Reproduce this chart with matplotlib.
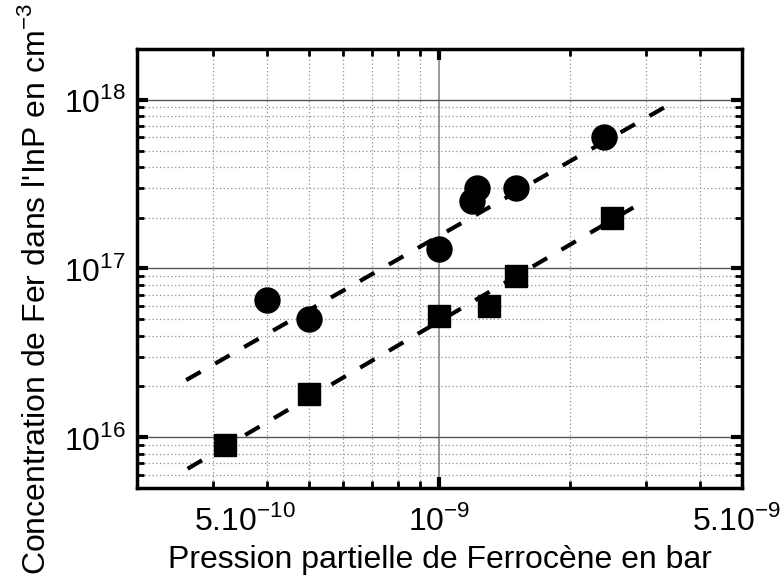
import matplotlib
matplotlib.use('Agg')
from matplotlib import pyplot as plt

plt.rcParams['font.family'] = ['Liberation Sans', 'DejaVu Sans']
plt.rcParams['mathtext.fontset'] = 'custom'
plt.rcParams['mathtext.rm'] = 'Liberation Sans'

# data
circ_x = [4.0e-10, 5.0e-10, 1.0e-9, 1.19e-9, 1.22e-9, 1.5e-9, 2.4e-9]
circ_y = [6.5e16, 5.0e16, 1.3e17, 2.5e17, 3.0e17, 3.0e17, 6.0e17]
sq_x = [3.2e-10, 5.0e-10, 1.0e-9, 1.3e-9, 1.5e-9, 2.5e-9]
sq_y = [9.0e15, 1.8e16, 5.2e16, 6.0e16, 9.0e16, 2.0e17]

# fitted lines (end points)
fit_circ_x = [2.6e-10, 3.33e-9]
fit_circ_y = [2.18e16, 9.1e17]
fit_sq_x = [2.62e-10, 2.91e-9]
fit_sq_y = [6.5e15, 2.43e17]

# tick labels sit where the original author placed them
xlabel_pos = [3.55e-10, 1e-9, 4.85e-9]
xtick_labels = ['5.10$^{-10}$', '10$^{-9}$', '5.10$^{-9}$']
xminor = [3e-10, 4e-10, 5e-10, 6e-10, 7e-10, 8e-10, 9e-10, 2e-9, 3e-9, 4e-9]
ytick_pos = [1e16, 1e17, 1e18]
ytick_labels = ['10$^{16}$', '10$^{17}$', '10$^{18}$']
yminor = [6e15, 7e15, 8e15, 9e15] + [k * 1e16 for k in range(2, 10)] + [k * 1e17 for k in range(2, 10)]

fig = plt.figure(figsize=(7.82, 5.83), dpi=100)
ax = fig.add_axes([0.175, 0.163, 0.774, 0.753])
ax.set_xscale('log')
ax.set_yscale('log')
ax.set_xlim(2e-10, 5e-9)
ax.set_ylim(5e15, 2e18)

# grid
for x in xminor:
    ax.axvline(x, color='#909090', lw=0.9, ls=(0, (1, 2)), zorder=0)
for y in yminor:
    ax.axhline(y, color='#909090', lw=0.9, ls=(0, (1, 2)), zorder=0)
ax.axvline(1e-9, color='#888888', lw=1.2, zorder=0)
for y in ytick_pos:
    ax.axhline(y, color='#555555', lw=1.0, zorder=0)

# fits
ax.plot(fit_circ_x, fit_circ_y, color='black', lw=3, ls=(0, (4, 4)), zorder=2)
ax.plot(fit_sq_x, fit_sq_y, color='black', lw=3, ls=(0, (4, 4)), zorder=2)

# points
ax.plot(circ_x, circ_y, 'o', color='black', markersize=18, zorder=3)
ax.plot(sq_x, sq_y, 's', color='black', markersize=16.5, zorder=3)

# ticks
ax.set_xticks(xlabel_pos, xtick_labels)
ax.set_xticks(xminor, minor=True)
ax.set_yticks(ytick_pos, ytick_labels)
ax.set_yticks(yminor, minor=True)
ax.xaxis.set_minor_formatter(plt.NullFormatter())
ax.yaxis.set_minor_formatter(plt.NullFormatter())
ax.tick_params(which='major', direction='in', length=8, width=3, top=True, right=True,
               labelsize=23)
ax.tick_params(which='minor', direction='in', length=5, width=2, top=True, right=True)
ax.tick_params(axis='x', which='major', pad=12)
ax.tick_params(axis='y', which='major', pad=8)

# only the 10^-9 label carries a real major tick
majors = ax.xaxis.get_major_ticks()
for i in (0, 2):
    majors[i].tick1line.set_markersize(0)
    majors[i].tick2line.set_markersize(0)

for s in ax.spines.values():
    s.set_linewidth(2.5)

ax.set_xlabel('Pression partielle de Ferrocène en bar', fontsize=23)
ax.xaxis.set_label_coords(0.5, -0.13)
ax.set_ylabel("Concentration de Fer dans l'InP en cm$^{-3}$", fontsize=23)
ax.yaxis.set_label_coords(-0.14, 0.454)

fig.savefig('out.png', dpi=100)
